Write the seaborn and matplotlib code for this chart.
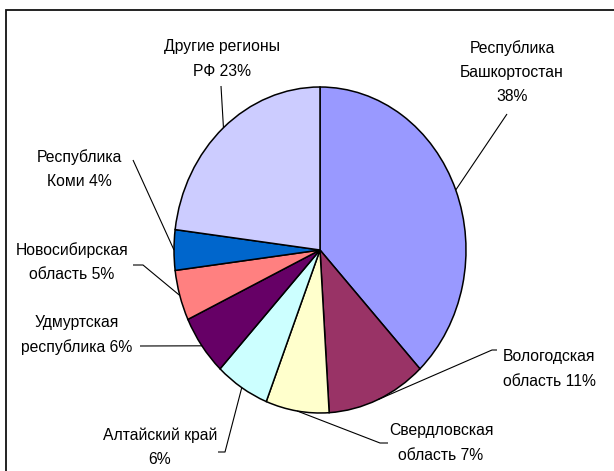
import matplotlib
matplotlib.use("Agg")
import numpy as np
import matplotlib.pyplot as plt
import matplotlib.patches as mpatches
import seaborn as sns

# Доля регионов (в процентах), по часовой стрелке от 12 часов
labels = [
    "Республика\nБашкортостан\n{v}%",
    "Вологодская\nобласть {v}%",
    "Свердловская\nобласть {v}%",
    "Алтайский край\n{v}%",
    "Удмуртская\nреспублика {v}%",
    "Новосибирская\nобласть {v}%",
    "Республика\nКоми {v}%",
    "Другие регионы\nРФ {v}%",
]
shares = [38, 11, 7, 6, 6, 5, 4, 23]
colors = ["#9999FF", "#993366", "#FFFFCC", "#CCFFFF",
          "#660066", "#FF8080", "#0066CC", "#CCCCFF"]

sns.set_theme(style="white")
plt.rcParams["font.family"] = ["Liberation Sans", "DejaVu Sans"]
palette = sns.color_palette(colors)

W, H = 614, 471
fig = plt.figure(figsize=(W / 100, H / 100), dpi=100)
fig.patch.set_facecolor("white")

# Pie drawn as an ellipse: centre (320, 250) px, radii 146 x 163 px
CX, CY, RX, RY = 320, 250, 146, 163


def px(x, y):
    return (x - CX) / RX, (CY - y) / RY


ax = fig.add_axes([0, 0, 1, 1])
wedges, _ = ax.pie(shares, colors=palette, startangle=90, counterclock=False,
                   radius=1, center=(0, 0),
                   wedgeprops=dict(edgecolor="black", linewidth=1.1))
ax.set_aspect("auto")
ax.set_xlim(px(0, 0)[0], px(W, 0)[0])
ax.set_ylim(px(0, H)[1], px(0, 0)[1])
ax.axis("off")

# label block centres (px) and leader paths from label side (px)
label_pos = [(512, 72), (549, 369), (441, 443), (160, 447),
             (77, 335), (72, 262), (79, 169), (222, 59)]
leader_ends = [
    [(507, 114)],
    [(497, 350), (492, 350)],
    [(388, 443), (380, 443)],
    [(218, 452), (225, 452)],
    [(140, 346)],
    [(133, 265), (143, 265)],
    [(133, 160)],
    [(221, 86)],
]

for w, fmt, val, (lx, ly), path in zip(wedges, labels, shares, label_pos, leader_ends):
    mid = np.deg2rad((w.theta1 + w.theta2) / 2)
    ex, ey = np.cos(mid), np.sin(mid)
    pts = [px(*p) for p in path] + [(ex, ey)]
    ax.plot([p[0] for p in pts], [p[1] for p in pts], color="black", lw=0.8,
            solid_capstyle="butt", zorder=1)
    tx, ty = px(lx, ly)
    ax.text(tx, ty, fmt.format(v=val), ha="center", va="center", fontsize=11.3,
            linespacing=1.75, color="black")

# chart frame, open at the bottom/right edges of the image
frame = mpatches.Rectangle((6 / W, -0.05), 1.0, 1 - 10 / H + 0.05,
                           transform=fig.transFigure, fill=False,
                           edgecolor="#111111", linewidth=1.3)
fig.add_artist(frame)

fig.savefig("out.png", dpi=100, facecolor="white")
